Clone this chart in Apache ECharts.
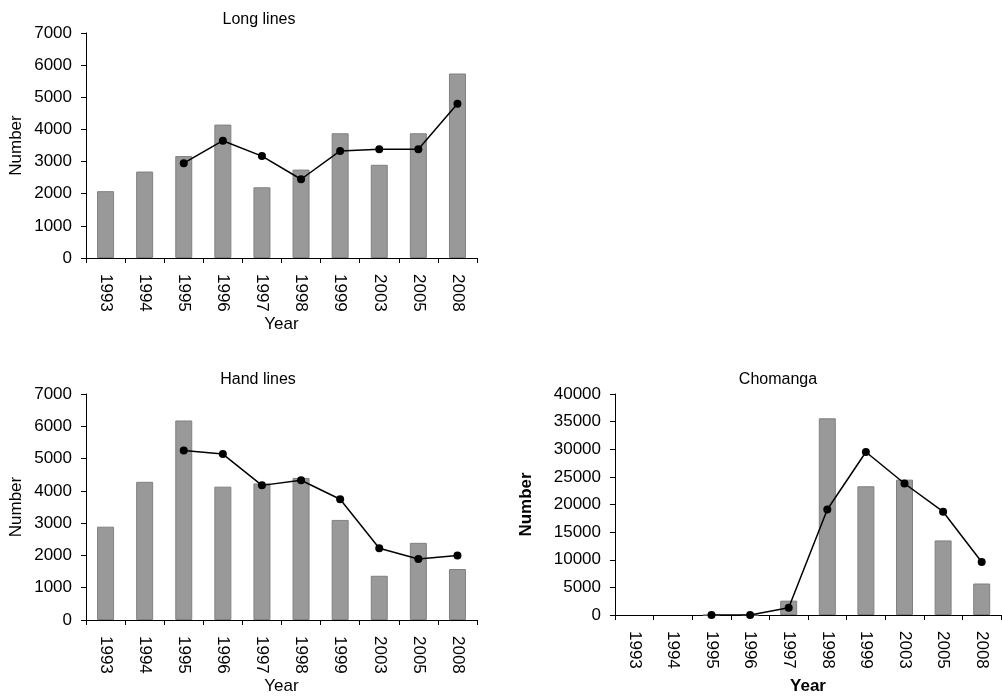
<!DOCTYPE html>
<html>
<head>
<meta charset="utf-8">
<script src="https://cdn.jsdelivr.net/npm/echarts@6/dist/echarts.min.js"></script>
<style>
  html, body { margin: 0; padding: 0; background: #fff; }
  #chart { width: 1002px; height: 700px; }
</style>
</head>
<body>
<div id="chart"></div>
<script>
// Catch numbers by gear type and year: bars are the counts, the line a running trend
const years = ['1993', '1994', '1995', '1996', '1997', '1998', '1999', '2003', '2005', '2008'];

const longLinesBars = [2080, 2690, 3170, 4150, 2200, 2750, 3880, 2900, 3880, 5740];
const longLinesLine = [null, null, 2950, 3650, 3170, 2450, 3330, 3380, 3380, 4800];

const handLinesBars = [2890, 4280, 6180, 4130, 4230, 4400, 3100, 1370, 2390, 1580];
const handLinesLine = [null, null, 5250, 5140, 4170, 4330, 3740, 2220, 1890, 2000];

const chomangaBars = [null, null, 0, 0, 2600, 35600, 23300, 24500, 13500, 5700];
const chomangaLine = [null, null, 0, 0, 1300, 19100, 29500, 23800, 18700, 9600];

const panelTitles = ['Long lines', 'Hand lines', 'Chomanga'];
const yMax = [7000, 7000, 40000];
const yStep = [1000, 1000, 5000];

const FONT = '"Liberation Sans", Arial, sans-serif';

const grids = [
  { left: 86, top: 33, width: 391, height: 225 },
  { left: 86, top: 394, width: 391, height: 226 },
  { left: 615, top: 394, width: 386, height: 221 }
];

// per-panel title centre and axis-name offsets
const panelStyle = [
  { weight: 'normal', yGap: 61, xGap: 56, titleX: 254, titleY: 7 },
  { weight: 'normal', yGap: 61, xGap: 56, titleX: 253, titleY: 367 },
  { weight: 'bold', yGap: 80, xGap: 63, titleX: 773, titleY: 367 }
];

const xAxes = grids.map((g, i) => ({
  type: 'category',
  gridIndex: i,
  data: years,
  boundaryGap: true,
  name: 'Year',
  nameLocation: 'middle',
  nameGap: panelStyle[i].xGap,
  nameTextStyle: { fontFamily: FONT, fontSize: 17, color: '#000', fontWeight: panelStyle[i].weight },
  axisLine: { lineStyle: { color: '#000', width: 1 } },
  axisTick: { show: true, length: 5, lineStyle: { color: '#000' } },
  axisLabel: { rotate: -90, margin: 16, fontFamily: FONT, fontSize: 17, color: '#000', interval: 0 },
  splitLine: { show: false }
}));

const yAxes = grids.map((g, i) => ({
  type: 'value',
  gridIndex: i,
  min: 0,
  max: yMax[i],
  interval: yStep[i],
  name: 'Number',
  nameLocation: 'middle',
  nameGap: panelStyle[i].yGap,
  nameRotate: 90,
  nameTextStyle: { fontFamily: FONT, fontSize: 17, color: '#000', fontWeight: panelStyle[i].weight },
  axisLine: { show: true, lineStyle: { color: '#000', width: 1 } },
  axisTick: { show: true, length: 5, lineStyle: { color: '#000' } },
  axisLabel: {
    margin: 14, fontFamily: FONT, fontSize: 17, color: '#000',
    formatter: v => String(v)
  },
  splitLine: { show: false }
}));

const barSets = [longLinesBars, handLinesBars, chomangaBars];
const lineSets = [longLinesLine, handLinesLine, chomangaLine];

const series = [];
barSets.forEach((vals, i) => {
  series.push({
    type: 'bar',
    xAxisIndex: i,
    yAxisIndex: i,
    data: vals,
    barWidth: 17,
    itemStyle: { color: '#999999', borderColor: '#808080', borderWidth: 1 },
    silent: true,
    z: 2
  });
  series.push({
    type: 'line',
    xAxisIndex: i,
    yAxisIndex: i,
    data: lineSets[i],
    connectNulls: false,
    symbol: 'circle',
    symbolSize: 8,
    lineStyle: { color: '#000', width: 1.5 },
    itemStyle: { color: '#000' },
    silent: true,
    z: 3
  });
});

const titles = grids.map((g, i) => ({
  text: panelTitles[i],
  left: panelStyle[i].titleX,
  top: panelStyle[i].titleY,
  textAlign: 'center',
  textStyle: { fontFamily: FONT, fontSize: 16, fontWeight: 'normal', color: '#000' }
}));

const chart = echarts.init(document.getElementById('chart'), null, { renderer: 'canvas' });
chart.setOption({
  backgroundColor: '#fff',
  animation: false,
  title: titles,
  grid: grids,
  xAxis: xAxes,
  yAxis: yAxes,
  series: series
});
</script>
</body>
</html>
